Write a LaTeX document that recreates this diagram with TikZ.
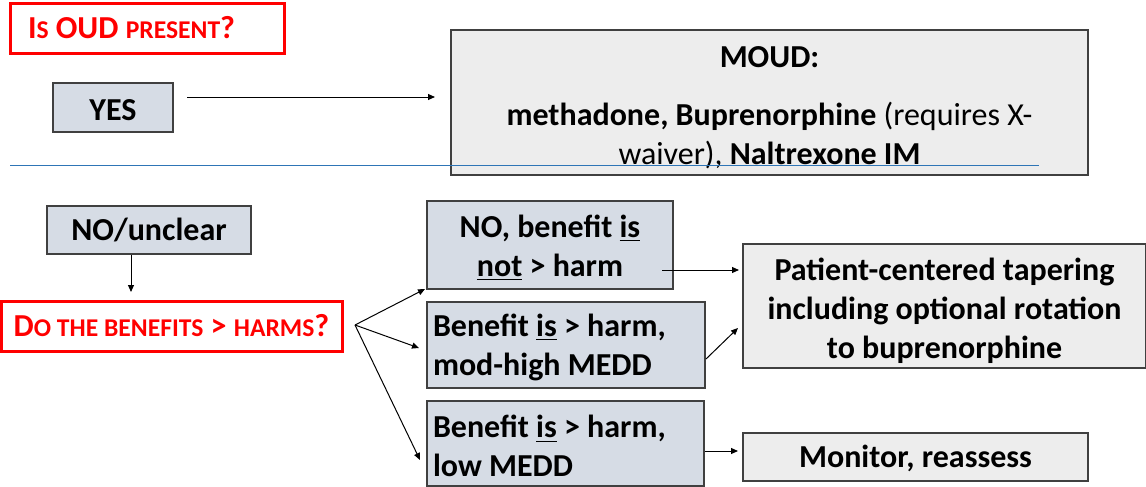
\documentclass[tikz,border=0pt]{standalone}
\usepackage{fontspec}
\setmainfont{Carlito}
\usetikzlibrary{arrows.meta}
\definecolor{boxblue}{HTML}{D6DCE5}
\definecolor{boxgray}{HTML}{EDEDED}
\definecolor{edgegray}{HTML}{404040}
\definecolor{alertred}{HTML}{FF0000}
\definecolor{rulerblue}{HTML}{2E75B6}
% faked small capitals for the red questions
\newcommand\smc[1]{{\fontsize{12.8pt}{14pt}\selectfont #1}}
\tikzset{
  base/.style={draw=edgegray, line width=0.75pt, inner sep=0pt, align=center,
    font=\bfseries\fontsize{16pt}{19.5pt}\selectfont},
  bluebox/.style={base, fill=boxblue},
  graybox/.style={base, fill=boxgray},
  redbox/.style={draw=alertred, line width=1.5pt, fill=white, text=alertred, inner sep=0pt,
    font=\bfseries\fontsize{16pt}{19.5pt}\selectfont},
  arr/.style={-{Triangle[length=3.5pt,width=3pt]}, line width=0.5pt, black}
}
\begin{document}
\begin{tikzpicture}[x=0.5pt,y=-0.5pt]
\useasboundingbox (0,0) rectangle (1146,487);

% upper branch
\node[redbox, minimum width=137pt, minimum height=25pt, inner xsep=9pt, text width=119pt, align=flush left]
  (oud) at (147,28) {I\smc{S} OUD \smc{PRESENT}?};
\node[bluebox, minimum width=60pt, minimum height=24.5pt] (yes) at (113,107.5) {\rule{0pt}{13pt}YES};
\node[graybox, minimum width=318.5pt, minimum height=72.5pt] (moud) at (769.5,102.5)
  {\rule{0pt}{16pt}MOUD:\\[9.5pt] methadone, Buprenorphine {\mdseries (requires X-}\\ {\mdseries waiver),} Naltrexone IM};

% separator between the two branches
\draw[rulerblue, line width=0.5pt] (10,165) -- (1039,165);

% lower branch
\node[bluebox, minimum width=102pt, minimum height=24pt] (unclear) at (149,230) {NO/unclear};
\node[redbox, minimum width=170.5pt, minimum height=25pt] (benefit) at (171.5,326)
  {D\smc{O THE BENEFITS} > \smc{HARMS}?};
\node[bluebox, minimum width=123pt, minimum height=44pt] (optA) at (550,245)
  {\rule{0pt}{14pt}NO, benefit \underline{is}\\ \underline{not} > harm};
\node[bluebox, minimum width=139pt, minimum height=43pt, inner xsep=3pt, text width=133pt, align=flush left]
  (optB) at (566,345) {\rule{0pt}{14pt}Benefit \underline{is} > harm,\\ mod-high MEDD};
\node[bluebox, minimum width=138.5pt, minimum height=42.5pt, inner xsep=3pt, text width=132.5pt, align=flush left]
  (optC) at (565.5,443.5) {\rule{0pt}{14pt}Benefit \underline{is} > harm,\\ low MEDD};
\node[graybox, minimum width=201.5pt, minimum height=62pt] (taper) at (944.5,306)
  {\rule{0pt}{16.5pt}Patient-centered tapering\\ including optional rotation\\ to buprenorphine};
\node[graybox, minimum width=172.5pt, minimum height=24pt] (monitor) at (915.5,457)
  {\rule{0pt}{13pt}Monitor, reassess};

% connector end points
\coordinate (yesOut) at (187,97);
\coordinate (moudIn) at (435,97);
\coordinate (downEnd) at (131,292);
\coordinate (fan) at (355,325);
\coordinate (aIn) at (425,289);
\coordinate (bIn) at (419,348);
\coordinate (cIn) at (420,460);
\coordinate (aOut) at (662,270);
\coordinate (tIn1) at (739,270);
\coordinate (bOut) at (706,359);
\coordinate (tIn2) at (738,328);
\coordinate (cOut) at (705,451);
\coordinate (mIn) at (738,451);

% connectors
\draw[arr] (yesOut) -- (moudIn);
\draw[arr] (downEnd |- unclear.south) -- (downEnd);
\draw[arr] (fan) -- (aIn);
\draw[arr] (fan) -- (bIn);
\draw[arr] (fan) -- (cIn);
\draw[arr] (aOut) -- (tIn1);
\draw[arr] (bOut) -- (tIn2);
\draw[arr] (cOut) -- (mIn);
\end{tikzpicture}
\end{document}
